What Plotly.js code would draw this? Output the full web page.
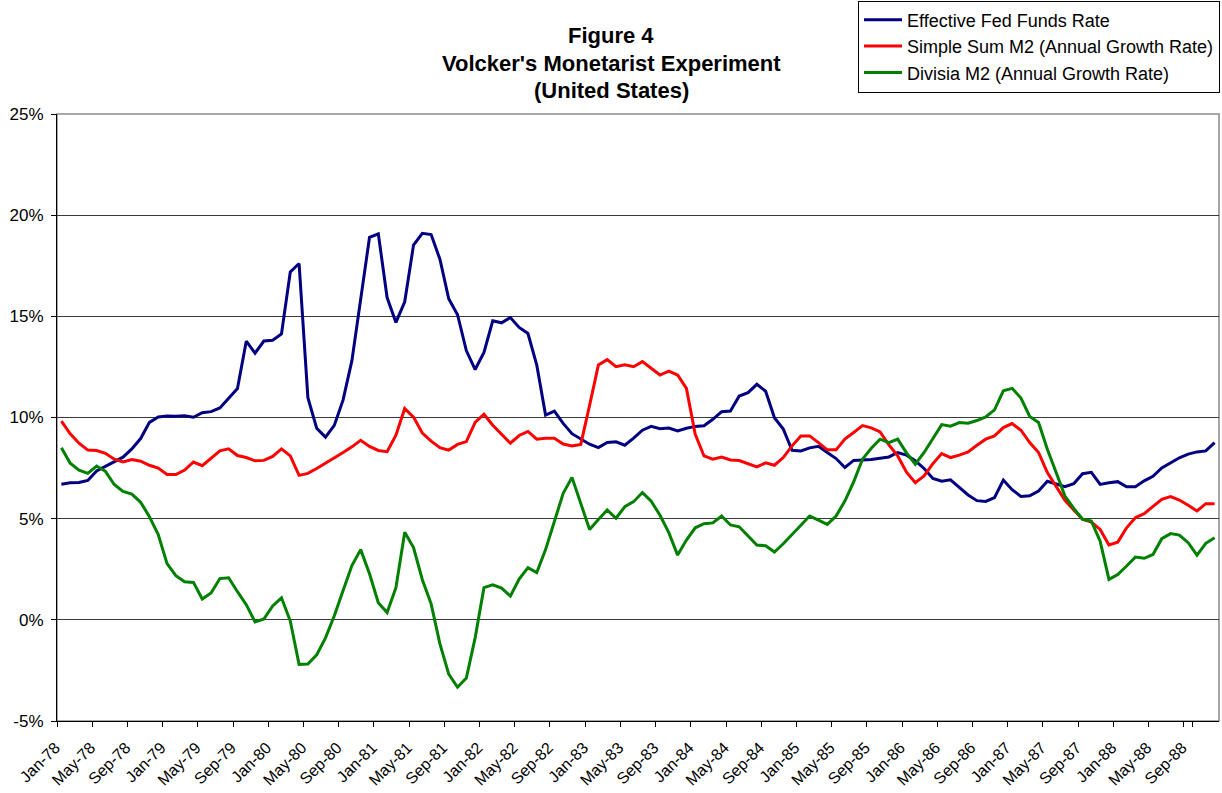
<!DOCTYPE html>
<html>
<head>
<meta charset="utf-8">
<script src="https://cdn.plot.ly/plotly-3.0.1.min.js"></script>
<style>
html,body{margin:0;padding:0;background:#fff;}
#chart{width:1222px;height:793px;}
</style>
</head>
<body>
<div id="chart"></div>
<script>
// Category labels
const monthNames = ["Jan","Feb","Mar","Apr","May","Jun","Jul","Aug","Sep","Oct","Nov","Dec"];
const years = ["78","79","80","81","82","83","84","85","86","87","88"];
const months = [];
years.forEach(y => monthNames.forEach(m => months.push(m + "-" + y)));

// Series values (percent)
const fedFunds = [
  6.70, 6.78, 6.79, 6.89, 7.36, 7.60, 7.81, 8.04, 8.45, 8.96, 9.76, 10.03,
  10.07, 10.06, 10.09, 10.01, 10.24, 10.29, 10.47, 10.94, 11.43, 13.77, 13.18, 13.78,
  13.82, 14.13, 17.19, 17.61, 10.98, 9.47, 9.03, 9.61, 10.87, 12.81, 15.85, 18.90,
  19.08, 15.93, 14.70, 15.72, 18.52, 19.10, 19.04, 17.82, 15.87, 15.08, 13.31, 12.37,
  13.22, 14.78, 14.68, 14.94, 14.45, 14.15, 12.59, 10.12, 10.31, 9.71, 9.20, 8.95,
  8.68, 8.51, 8.77, 8.80, 8.63, 8.98, 9.37, 9.56, 9.45, 9.48, 9.34, 9.47,
  9.56, 9.59, 9.91, 10.29, 10.32, 11.06, 11.23, 11.64, 11.30, 9.99, 9.43, 8.38,
  8.35, 8.50, 8.58, 8.27, 7.97, 7.53, 7.88, 7.90, 7.92, 7.99, 8.05, 8.27,
  8.14, 7.86, 7.48, 6.99, 6.85, 6.92, 6.56, 6.17, 5.89, 5.85, 6.04, 6.91,
  6.43, 6.10, 6.13, 6.37, 6.85, 6.73, 6.58, 6.73, 7.22, 7.29, 6.69, 6.77,
  6.83, 6.58, 6.58, 6.87, 7.09, 7.51, 7.75, 8.01, 8.19, 8.30, 8.35, 8.76
];
const simpleSumM2 = [
  9.82, 9.19, 8.73, 8.39, 8.37, 8.23, 7.94, 7.80, 7.92, 7.84, 7.64, 7.50,
  7.18, 7.18, 7.40, 7.80, 7.62, 7.98, 8.35, 8.45, 8.12, 8.02, 7.86, 7.88,
  8.08, 8.45, 8.10, 7.14, 7.24, 7.48, 7.74, 7.98, 8.27, 8.55, 8.87, 8.57,
  8.37, 8.31, 9.13, 10.44, 10.02, 9.23, 8.83, 8.51, 8.39, 8.67, 8.81, 9.76,
  10.16, 9.62, 9.17, 8.73, 9.11, 9.31, 8.93, 8.97, 8.97, 8.69, 8.59, 8.67,
  10.60, 12.60, 12.86, 12.51, 12.61, 12.51, 12.76, 12.43, 12.10, 12.29, 12.10, 11.44,
  9.17, 8.10, 7.94, 8.05, 7.90, 7.87, 7.71, 7.56, 7.76, 7.64, 8.02, 8.60,
  9.09, 9.09, 8.76, 8.40, 8.40, 8.93, 9.26, 9.60, 9.49, 9.29, 8.65, 8.10,
  7.30, 6.78, 7.11, 7.72, 8.22, 8.02, 8.14, 8.30, 8.63, 8.93, 9.09, 9.50,
  9.70, 9.37, 8.76, 8.27, 7.28, 6.62, 5.91, 5.43, 4.97, 4.83, 4.47, 3.70,
  3.84, 4.55, 5.05, 5.25, 5.59, 5.96, 6.09, 5.92, 5.66, 5.38, 5.74, 5.74
];
const divisiaM2 = [
  8.51, 7.74, 7.40, 7.24, 7.60, 7.34, 6.69, 6.35, 6.21, 5.81, 5.10, 4.21,
  2.78, 2.18, 1.88, 1.85, 1.03, 1.33, 2.04, 2.08, 1.39, 0.75, -0.10, 0.04,
  0.69, 1.09, -0.06, -2.20, -2.18, -1.73, -0.89, 0.20, 1.45, 2.68, 3.47, 2.28,
  0.85, 0.36, 1.59, 4.33, 3.57, 1.98, 0.79, -1.19, -2.68, -3.33, -2.88, -0.89,
  1.59, 1.73, 1.57, 1.17, 2.02, 2.58, 2.34, 3.47, 4.86, 6.25, 7.04, 5.75,
  4.46, 4.96, 5.43, 5.02, 5.59, 5.84, 6.29, 5.86, 5.17, 4.31, 3.20, 3.94,
  4.55, 4.75, 4.79, 5.13, 4.69, 4.60, 4.14, 3.70, 3.66, 3.35, 3.76, 4.21,
  4.64, 5.13, 4.93, 4.72, 5.13, 5.87, 6.82, 7.94, 8.48, 8.93, 8.76, 8.93,
  8.25, 7.69, 8.27, 8.96, 9.65, 9.57, 9.75, 9.72, 9.85, 10.03, 10.38, 11.32,
  11.44, 10.96, 10.05, 9.75, 8.43, 7.28, 6.12, 5.51, 4.97, 4.88, 3.89, 2.00,
  2.24, 2.66, 3.10, 3.04, 3.23, 4.01, 4.26, 4.19, 3.81, 3.20, 3.78, 4.06
];

const seriesNames = ["Effective Fed Funds Rate", "Simple Sum M2 (Annual Growth Rate)", "Divisia M2 (Annual Growth Rate)"];
const titleLines = ["Figure 4", "Volcker's Monetarist Experiment", "(United States)"];
const tickLabels = months.filter((_, i) => i % 4 === 0);
const yTicks = [-5, 0, 5, 10, 15, 20, 25];

const FONT = '"Liberation Sans", Arial, Helvetica, sans-serif';

const traces = [
  {x: months, y: fedFunds, name: seriesNames[0], legendgroup: "a", type: "scatter", mode: "lines",
   line: {color: "#000080", width: 3}},
  {x: months, y: simpleSumM2, name: seriesNames[1], legendgroup: "b", type: "scatter", mode: "lines",
   line: {color: "#FF0000", width: 3}},
  {x: months, y: divisiaM2, name: seriesNames[2], legendgroup: "c", type: "scatter", mode: "lines",
   line: {color: "#008000", width: 3}}
];

// Plot area: x 57..1219, y 114..721
const plotTop = 114, plotBottom = 721;
const ph = plotBottom - plotTop;
function py(pix){ return (plotBottom - pix) / ph; }

const layout = {
  width: 1222, height: 793,
  margin: {l: 57, r: 3, t: 114, b: 72, autoexpand: false},
  paper_bgcolor: "#ffffff", plot_bgcolor: "#ffffff",
  font: {family: FONT, color: "#000000", size: 16},
  showlegend: true,
  legend: {
    x: (858 - 57) / 1162, xanchor: "left",
    y: py(0.5), yanchor: "top",
    bgcolor: "#ffffff", bordercolor: "#000000", borderwidth: 1,
    font: {family: FONT, size: 18, color: "#000000"},
    tracegroupgap: 0,
    itemwidth: 38
  },
  xaxis: {
    type: "category",
    range: [-0.5, months.length - 0.5],
    tickmode: "array", tickvals: tickLabels, ticktext: tickLabels,
    tickson: "boundaries",
    tickangle: -45,
    ticklabelstandoff: 10,
    ticklabelshift: -6,
    ticks: "outside", ticklen: 5, tickwidth: 1, tickcolor: "#000000",
    showgrid: false, zeroline: false,
    showline: true, linecolor: "#000000", linewidth: 1,
    tickfont: {family: FONT, size: 16, color: "#000000"}
  },
  yaxis: {
    range: [-5, 25],
    tickmode: "array", tickvals: yTicks, ticktext: yTicks.map(v => v + "%"),
    ticks: "outside", ticklen: 5, tickwidth: 1, tickcolor: "#000000",
    ticklabelstandoff: 4,
    showgrid: true, gridcolor: "#3a3a3a", gridwidth: 1,
    zeroline: false,
    showline: true, linecolor: "#000000", linewidth: 1,
    tickfont: {family: FONT, size: 17, color: "#000000"}
  },
  shapes: [
    {type: "rect", xref: "paper", yref: "paper", x0: 0, x1: 1, y0: 0, y1: 1,
     line: {color: "#8a8a8a", width: 1.5}, fillcolor: "rgba(0,0,0,0)", layer: "between"}
  ],
  annotations: titleLines.map((t, k) => ({
    text: "<b>" + t + "</b>", xref: "paper", yref: "paper",
    x: (611 - 57) / 1162, y: py(35 + 28 * k), xanchor: "center", yanchor: "middle",
    showarrow: false, font: {family: FONT, size: 22, color: "#000000"}
  }))
};

Plotly.newPlot("chart", traces, layout, {displayModeBar: false, staticPlot: true});
</script>
</body>
</html>
